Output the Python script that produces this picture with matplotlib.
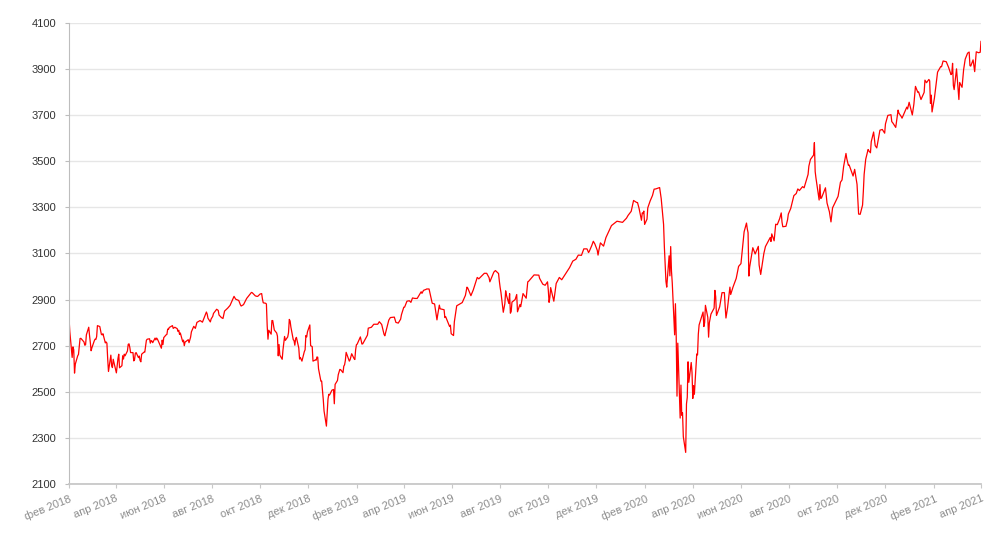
import matplotlib
matplotlib.use('Agg')
import matplotlib.pyplot as plt
import pandas as pd

plt.rcParams['font.family'] = ['Liberation Sans', 'DejaVu Sans']

# S&P 500 closes, one line per month
dates = [
    '2018-02-01', '2018-02-02', '2018-02-05', '2018-02-06', '2018-02-07', '2018-02-08', '2018-02-09', '2018-02-12', '2018-02-13', '2018-02-14', '2018-02-15', '2018-02-16', '2018-02-20', '2018-02-21', '2018-02-22', '2018-02-23', '2018-02-26', '2018-02-27', '2018-02-28',
    '2018-03-01', '2018-03-02', '2018-03-05', '2018-03-06', '2018-03-07', '2018-03-08', '2018-03-09', '2018-03-12', '2018-03-13', '2018-03-14', '2018-03-15', '2018-03-16', '2018-03-19', '2018-03-20', '2018-03-21', '2018-03-22', '2018-03-23', '2018-03-26', '2018-03-27', '2018-03-28', '2018-03-29',
    '2018-04-02', '2018-04-03', '2018-04-04', '2018-04-05', '2018-04-06', '2018-04-09', '2018-04-10', '2018-04-11', '2018-04-12', '2018-04-13', '2018-04-16', '2018-04-17', '2018-04-18', '2018-04-19', '2018-04-20', '2018-04-23', '2018-04-24', '2018-04-25', '2018-04-26', '2018-04-27', '2018-04-30',
    '2018-05-01', '2018-05-02', '2018-05-03', '2018-05-04', '2018-05-07', '2018-05-08', '2018-05-09', '2018-05-10', '2018-05-11', '2018-05-14', '2018-05-15', '2018-05-16', '2018-05-17', '2018-05-18', '2018-05-21', '2018-05-22', '2018-05-23', '2018-05-24', '2018-05-25', '2018-05-29', '2018-05-30', '2018-05-31',
    '2018-06-01', '2018-06-04', '2018-06-05', '2018-06-06', '2018-06-07', '2018-06-08', '2018-06-12', '2018-06-13', '2018-06-15', '2018-06-18', '2018-06-19', '2018-06-20', '2018-06-21', '2018-06-22', '2018-06-25', '2018-06-26', '2018-06-27', '2018-06-28', '2018-06-29',
    '2018-07-02', '2018-07-03', '2018-07-05', '2018-07-06', '2018-07-09', '2018-07-11', '2018-07-13', '2018-07-17', '2018-07-19', '2018-07-20', '2018-07-25', '2018-07-26', '2018-07-27', '2018-07-30', '2018-07-31',
    '2018-08-02', '2018-08-03', '2018-08-07', '2018-08-09', '2018-08-10', '2018-08-13', '2018-08-15', '2018-08-17', '2018-08-21', '2018-08-24', '2018-08-29', '2018-08-31',
    '2018-09-04', '2018-09-06', '2018-09-07', '2018-09-10', '2018-09-14', '2018-09-20', '2018-09-21', '2018-09-25', '2018-09-27', '2018-09-28',
    '2018-10-01', '2018-10-03', '2018-10-04', '2018-10-05', '2018-10-08', '2018-10-09', '2018-10-10', '2018-10-11', '2018-10-12', '2018-10-15', '2018-10-16', '2018-10-17', '2018-10-19', '2018-10-22', '2018-10-23', '2018-10-24', '2018-10-25', '2018-10-26', '2018-10-29', '2018-10-30', '2018-10-31',
    '2018-11-01', '2018-11-02', '2018-11-05', '2018-11-06', '2018-11-07', '2018-11-08', '2018-11-09', '2018-11-12', '2018-11-13', '2018-11-14', '2018-11-15', '2018-11-16', '2018-11-19', '2018-11-20', '2018-11-21', '2018-11-23', '2018-11-26', '2018-11-27', '2018-11-28', '2018-11-29', '2018-11-30',
    '2018-12-03', '2018-12-04', '2018-12-06', '2018-12-07', '2018-12-10', '2018-12-11', '2018-12-12', '2018-12-13', '2018-12-14', '2018-12-17', '2018-12-18', '2018-12-19', '2018-12-20', '2018-12-21', '2018-12-24', '2018-12-26', '2018-12-27', '2018-12-28', '2018-12-31',
    '2019-01-02', '2019-01-03', '2019-01-04', '2019-01-07', '2019-01-08', '2019-01-09', '2019-01-10', '2019-01-11', '2019-01-14', '2019-01-15', '2019-01-16', '2019-01-17', '2019-01-18', '2019-01-22', '2019-01-23', '2019-01-25', '2019-01-28', '2019-01-29', '2019-01-30', '2019-01-31',
    '2019-02-01', '2019-02-05', '2019-02-07', '2019-02-08', '2019-02-14', '2019-02-15', '2019-02-19', '2019-02-22', '2019-02-27',
    '2019-03-01', '2019-03-04', '2019-03-07', '2019-03-08', '2019-03-13', '2019-03-15', '2019-03-20', '2019-03-22', '2019-03-25', '2019-03-28', '2019-03-29',
    '2019-04-01', '2019-04-02', '2019-04-05', '2019-04-08', '2019-04-10', '2019-04-12', '2019-04-15', '2019-04-18', '2019-04-23', '2019-04-24', '2019-04-26', '2019-04-29', '2019-04-30',
    '2019-05-03', '2019-05-07', '2019-05-10', '2019-05-13', '2019-05-14', '2019-05-16', '2019-05-17', '2019-05-22', '2019-05-23', '2019-05-24', '2019-05-29', '2019-05-30', '2019-05-31',
    '2019-06-03', '2019-06-04', '2019-06-07', '2019-06-14', '2019-06-18', '2019-06-20', '2019-06-21', '2019-06-25', '2019-06-28',
    '2019-07-03', '2019-07-05', '2019-07-12', '2019-07-15', '2019-07-18', '2019-07-19', '2019-07-24', '2019-07-26', '2019-07-30', '2019-07-31',
    '2019-08-01', '2019-08-02', '2019-08-05', '2019-08-07', '2019-08-08', '2019-08-09', '2019-08-12', '2019-08-13', '2019-08-14', '2019-08-15', '2019-08-16', '2019-08-20', '2019-08-22', '2019-08-23', '2019-08-26', '2019-08-27', '2019-08-28', '2019-08-30',
    '2019-09-03', '2019-09-05', '2019-09-06', '2019-09-13', '2019-09-19', '2019-09-20', '2019-09-24', '2019-09-27', '2019-09-30',
    '2019-10-01', '2019-10-02', '2019-10-03', '2019-10-04', '2019-10-08', '2019-10-09', '2019-10-11', '2019-10-15', '2019-10-18', '2019-10-25', '2019-10-28',
    '2019-11-01', '2019-11-05', '2019-11-08', '2019-11-12', '2019-11-15', '2019-11-19', '2019-11-21', '2019-11-22', '2019-11-25', '2019-11-27', '2019-11-29',
    '2019-12-02', '2019-12-03', '2019-12-04', '2019-12-06', '2019-12-10', '2019-12-13', '2019-12-16', '2019-12-20', '2019-12-27',
    '2020-01-03', '2020-01-06', '2020-01-08', '2020-01-10', '2020-01-14', '2020-01-17', '2020-01-21', '2020-01-22', '2020-01-24', '2020-01-27', '2020-01-28', '2020-01-29', '2020-01-30', '2020-01-31',
    '2020-02-03', '2020-02-04', '2020-02-07', '2020-02-10', '2020-02-12', '2020-02-14', '2020-02-19', '2020-02-21', '2020-02-24', '2020-02-25', '2020-02-27', '2020-02-28',
    '2020-03-02', '2020-03-03', '2020-03-04', '2020-03-05', '2020-03-06', '2020-03-09', '2020-03-10', '2020-03-11', '2020-03-12', '2020-03-13', '2020-03-16', '2020-03-17', '2020-03-18', '2020-03-19', '2020-03-20', '2020-03-23', '2020-03-24', '2020-03-25', '2020-03-26', '2020-03-27', '2020-03-30', '2020-03-31',
    '2020-04-01', '2020-04-02', '2020-04-03', '2020-04-06', '2020-04-07', '2020-04-08', '2020-04-09', '2020-04-14', '2020-04-15', '2020-04-16', '2020-04-17', '2020-04-20', '2020-04-21', '2020-04-22', '2020-04-24', '2020-04-28', '2020-04-29', '2020-04-30',
    '2020-05-01', '2020-05-05', '2020-05-08', '2020-05-11', '2020-05-12', '2020-05-13', '2020-05-15', '2020-05-18', '2020-05-19', '2020-05-22', '2020-05-26', '2020-05-29',
    '2020-06-01', '2020-06-03', '2020-06-05', '2020-06-08', '2020-06-09', '2020-06-10', '2020-06-11', '2020-06-12', '2020-06-16', '2020-06-19', '2020-06-23', '2020-06-24', '2020-06-26', '2020-06-30',
    '2020-07-02', '2020-07-08', '2020-07-09', '2020-07-10', '2020-07-13', '2020-07-15', '2020-07-17', '2020-07-20', '2020-07-22', '2020-07-23', '2020-07-24', '2020-07-28', '2020-07-30', '2020-07-31',
    '2020-08-03', '2020-08-07', '2020-08-10', '2020-08-12', '2020-08-14', '2020-08-18', '2020-08-20', '2020-08-21', '2020-08-25', '2020-08-26', '2020-08-28',
    '2020-09-01', '2020-09-02', '2020-09-03', '2020-09-04', '2020-09-08', '2020-09-09', '2020-09-10', '2020-09-11', '2020-09-16', '2020-09-18', '2020-09-21', '2020-09-23', '2020-09-25',
    '2020-10-02', '2020-10-05', '2020-10-07', '2020-10-09', '2020-10-12', '2020-10-13', '2020-10-15', '2020-10-16', '2020-10-21', '2020-10-23', '2020-10-26', '2020-10-28', '2020-10-30',
    '2020-11-02', '2020-11-03', '2020-11-04', '2020-11-06', '2020-11-09', '2020-11-10', '2020-11-12', '2020-11-13', '2020-11-16', '2020-11-18', '2020-11-20', '2020-11-24', '2020-11-27', '2020-11-30',
    '2020-12-01', '2020-12-04', '2020-12-08', '2020-12-09', '2020-12-10', '2020-12-11', '2020-12-14', '2020-12-17', '2020-12-18', '2020-12-21', '2020-12-22', '2020-12-24', '2020-12-28', '2020-12-29', '2020-12-31',
    '2021-01-04', '2021-01-06', '2021-01-08', '2021-01-11', '2021-01-12', '2021-01-15', '2021-01-19', '2021-01-20', '2021-01-22', '2021-01-25', '2021-01-26', '2021-01-27', '2021-01-28', '2021-01-29',
    '2021-02-01', '2021-02-05', '2021-02-09', '2021-02-10', '2021-02-12', '2021-02-16', '2021-02-19', '2021-02-22', '2021-02-23', '2021-02-24', '2021-02-25', '2021-02-26',
    '2021-03-01', '2021-03-04', '2021-03-05', '2021-03-08', '2021-03-10', '2021-03-12', '2021-03-15', '2021-03-17', '2021-03-18', '2021-03-19', '2021-03-22', '2021-03-24', '2021-03-26', '2021-03-29', '2021-03-31',
    '2021-04-01',
]
closes = [
    2822, 2762, 2649, 2695, 2682, 2581, 2620, 2656, 2662, 2698, 2731, 2732, 2716, 2702, 2704, 2747, 2780, 2744, 2714,
    2678, 2691, 2721, 2728, 2727, 2739, 2787, 2783, 2765, 2749, 2747, 2752, 2712, 2716, 2711, 2643, 2588, 2659, 2613, 2605, 2641,
    2582, 2614, 2644, 2663, 2604, 2613, 2656, 2642, 2663, 2656, 2677, 2706, 2708, 2693, 2670, 2670, 2634, 2639, 2667, 2670, 2648,
    2655, 2636, 2630, 2663, 2672, 2672, 2698, 2723, 2728, 2730, 2711, 2722, 2720, 2713, 2733, 2725, 2733, 2728, 2721, 2689, 2724, 2705,
    2735, 2747, 2749, 2772, 2771, 2779, 2787, 2775, 2780, 2774, 2762, 2767, 2749, 2755, 2717, 2724, 2700, 2716, 2718,
    2726, 2713, 2737, 2760, 2784, 2775, 2801, 2809, 2804, 2802, 2846, 2837, 2819, 2803, 2816,
    2827, 2840, 2858, 2853, 2833, 2822, 2818, 2850, 2863, 2875, 2914, 2902,
    2896, 2878, 2872, 2878, 2905, 2931, 2930, 2916, 2914, 2914,
    2924, 2926, 2902, 2886, 2884, 2881, 2786, 2728, 2767, 2750, 2809, 2809, 2768, 2755, 2741, 2656, 2705, 2659, 2641, 2682, 2712,
    2740, 2723, 2738, 2756, 2814, 2807, 2781, 2726, 2722, 2702, 2730, 2736, 2690, 2642, 2649, 2633, 2674, 2682, 2744, 2738, 2760,
    2790, 2700, 2696, 2633, 2638, 2637, 2651, 2650, 2600, 2546, 2546, 2507, 2467, 2417, 2351, 2468, 2489, 2486, 2507,
    2510, 2448, 2532, 2549, 2574, 2585, 2597, 2596, 2583, 2611, 2617, 2636, 2671, 2633, 2639, 2665, 2644, 2640, 2682, 2704,
    2707, 2738, 2707, 2708, 2746, 2776, 2780, 2793, 2793,
    2804, 2792, 2749, 2743, 2811, 2822, 2824, 2801, 2798, 2815, 2834,
    2867, 2867, 2893, 2895, 2888, 2907, 2905, 2905, 2934, 2927, 2940, 2944, 2946,
    2946, 2884, 2881, 2812, 2835, 2876, 2860, 2856, 2822, 2826, 2783, 2789, 2752,
    2744, 2803, 2873, 2887, 2918, 2954, 2950, 2917, 2942,
    2996, 2990, 3014, 3014, 2995, 2977, 3019, 3026, 3013, 2980,
    2953, 2932, 2845, 2883, 2938, 2919, 2883, 2926, 2841, 2848, 2889, 2900, 2922, 2847, 2878, 2869, 2887, 2926,
    2906, 2977, 2979, 3007, 3006, 2992, 2967, 2962, 2977,
    2941, 2888, 2910, 2952, 2893, 2919, 2970, 2996, 2986, 3023, 3039,
    3067, 3075, 3093, 3092, 3120, 3120, 3104, 3110, 3134, 3153, 3141,
    3114, 3093, 3113, 3146, 3132, 3169, 3191, 3221, 3240,
    3235, 3246, 3253, 3265, 3283, 3330, 3321, 3321, 3295, 3244, 3276, 3273, 3284, 3226,
    3249, 3298, 3328, 3352, 3379, 3380, 3386, 3338, 3226, 3128, 2979, 2954,
    3090, 3003, 3130, 3024, 2972, 2747, 2882, 2741, 2481, 2711, 2386, 2529, 2398, 2409, 2305, 2237, 2447, 2476, 2630, 2541, 2627, 2585,
    2471, 2527, 2489, 2664, 2660, 2750, 2790, 2846, 2783, 2800, 2875, 2823, 2737, 2800, 2837, 2863, 2940, 2912,
    2831, 2868, 2930, 2930, 2870, 2820, 2864, 2954, 2922, 2955, 2992, 3044,
    3056, 3123, 3194, 3232, 3207, 3190, 3002, 3041, 3125, 3098, 3131, 3050, 3009, 3100,
    3130, 3169, 3152, 3185, 3155, 3227, 3225, 3251, 3276, 3236, 3216, 3218, 3246, 3271,
    3295, 3351, 3360, 3380, 3373, 3390, 3385, 3397, 3443, 3479, 3508,
    3527, 3581, 3455, 3427, 3332, 3399, 3339, 3341, 3385, 3319, 3281, 3237, 3298,
    3348, 3409, 3419, 3477, 3534, 3512, 3483, 3484, 3436, 3465, 3400, 3271, 3270,
    3310, 3370, 3443, 3509, 3551, 3545, 3537, 3585, 3627, 3568, 3558, 3635, 3638, 3622,
    3662, 3699, 3702, 3672, 3668, 3663, 3647, 3722, 3709, 3694, 3687, 3703, 3735, 3727, 3756,
    3701, 3748, 3825, 3799, 3801, 3768, 3799, 3852, 3841, 3855, 3849, 3751, 3787, 3714,
    3774, 3887, 3911, 3910, 3935, 3932, 3907, 3876, 3881, 3925, 3829, 3811,
    3901, 3768, 3842, 3821, 3898, 3943, 3969, 3974, 3915, 3913, 3940, 3889, 3975, 3971, 3973,
    4020,
]

tick_dates = ['2018-02-01', '2018-04-01', '2018-06-01', '2018-08-01', '2018-10-01', '2018-12-01',
              '2019-02-01', '2019-04-01', '2019-06-01', '2019-08-01', '2019-10-01', '2019-12-01',
              '2020-02-01', '2020-04-01', '2020-06-01', '2020-08-01', '2020-10-01', '2020-12-01',
              '2021-02-01', '2021-04-01']
tick_labels = ['фев 2018', 'апр 2018', 'июн 2018', 'авг 2018', 'окт 2018', 'дек 2018',
               'фев 2019', 'апр 2019', 'июн 2019', 'авг 2019', 'окт 2019', 'дек 2019',
               'фев 2020', 'апр 2020', 'июн 2020', 'авг 2020', 'окт 2020', 'дек 2020',
               'фев 2021', 'апр 2021']
y_ticks = [2100, 2300, 2500, 2700, 2900, 3100, 3300, 3500, 3700, 3900, 4100]

assert len(dates) == len(closes)
s = pd.Series(closes, index=pd.to_datetime(dates)).sort_index()
xt = pd.to_datetime(tick_dates)

fig = plt.figure(figsize=(10, 5.46), dpi=100)
ax = fig.add_axes([0.069, 0.1136, 0.912, 0.8443])

ax.plot(s.index, s.values, color='#ff0000', linewidth=0.9)

ax.set_xlim(xt[0], xt[-1])
ax.set_ylim(2100, 4100)
ax.set_yticks(y_ticks)
ax.set_xticks(xt)
ax.set_xticklabels(tick_labels, rotation=22, ha='right', rotation_mode='anchor')

ax.grid(axis='y', color='#e6e6e6', linewidth=1)
ax.set_axisbelow(True)
for sp in ['top', 'right']:
    ax.spines[sp].set_visible(False)
ax.spines['left'].set_color('#bdbdbd')
ax.spines['bottom'].set_color('#c8c8c8')
ax.spines['bottom'].set_linewidth(1.3)

ax.tick_params(axis='y', length=3, color='#bdbdbd', labelsize=8, labelcolor='#333333', pad=6)
ax.tick_params(axis='x', length=3, color='#c8c8c8', labelsize=8, labelcolor='#8c8c8c', pad=4)

fig.savefig('out.png', dpi=100, facecolor='white')
